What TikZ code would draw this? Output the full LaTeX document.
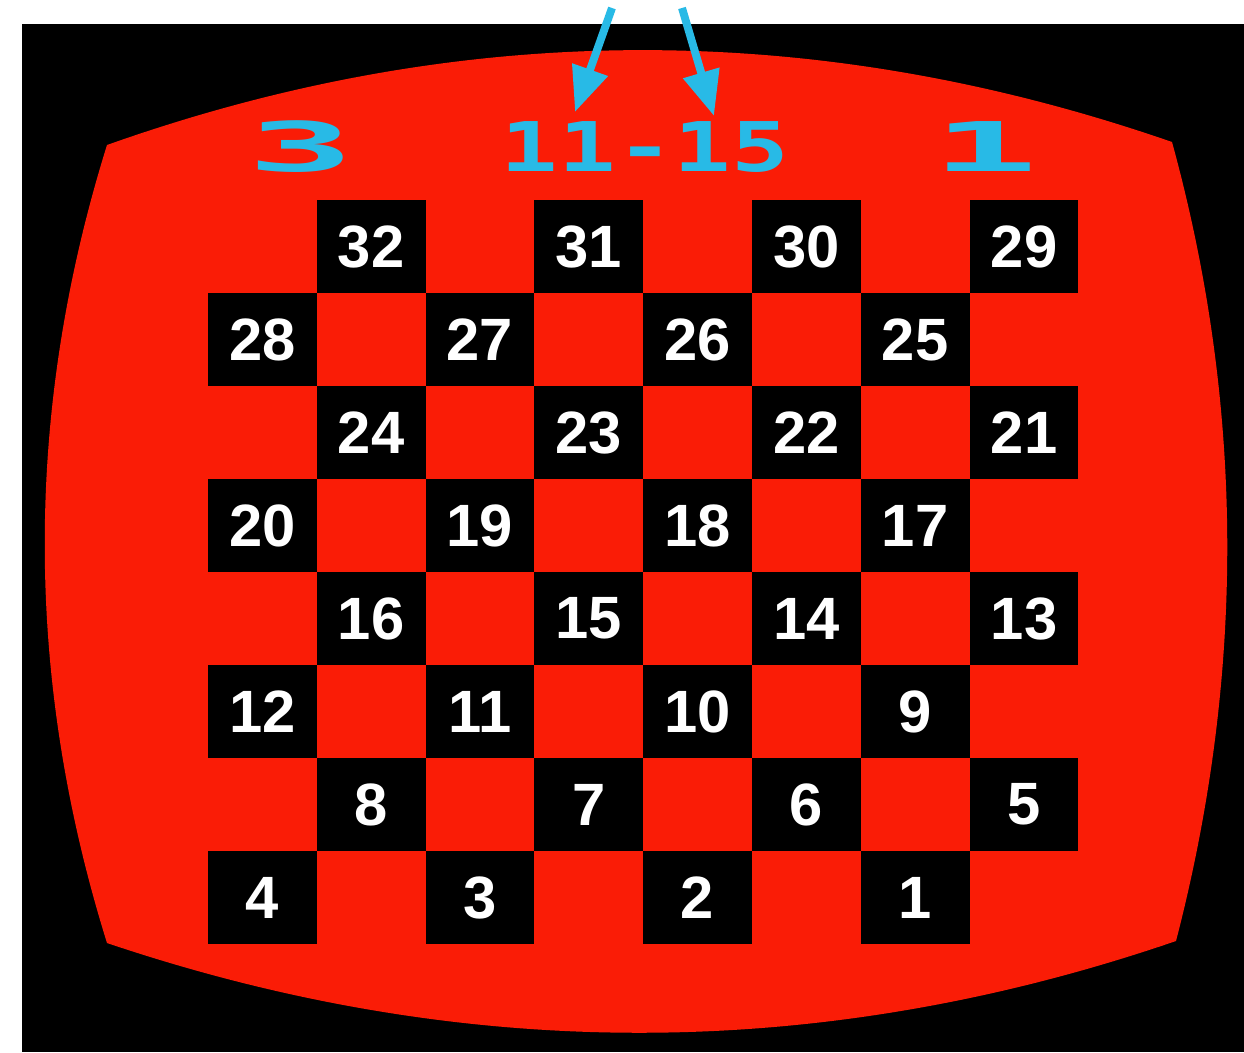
\documentclass[tikz,border=0pt]{standalone}
\usepackage{fontspec}
\usepackage{tikz}
\usetikzlibrary{arrows.meta}
\newfontfamily\boardfont{Liberation Sans}
\newfontfamily\movefont{DejaVu Sans Mono}[FakeStretch=1.4]
\newfontfamily\widefont{DejaVu Sans Mono}[FakeStretch=2.6]
\definecolor{screenred}{RGB}{250,28,6}
\definecolor{scorecyan}{RGB}{40,186,230}

\begin{document}
\begin{tikzpicture}[
    x=0.02cm, y=-0.02cm,
    cell/.style={fill=black, minimum width=2.176cm, minimum height=1.86cm, inner sep=0pt,
        text=white, font=\boardfont\bfseries\fontsize{34}{34}\selectfont},
    score/.style={text=scorecyan, inner sep=0pt, font=\widefont\bfseries\fontsize{39}{39}\selectfont},
    move/.style={score, font=\movefont\bfseries\fontsize{39}{39}\selectfont},
    pointer/.style={draw=scorecyan, line width=4.5pt, -{Triangle[length=0.9cm, width=0.72cm]}} % Pfeile auf den Zug
]
\useasboundingbox (0,0) rectangle (1244,1052);
\fill[white] (0,0) rectangle (1244,1052);
\fill[black] (22,24) rectangle (1244,1052);

% Bildschirm
\fill[screenred] (107,145) .. controls (462,19) and (817,19) .. (1172,142)
    .. controls (1245,408) and (1245,675) .. (1176,941)
    .. controls (820,1063) and (463,1063) .. (107,943)
    .. controls (24,677) and (24,411) .. cycle;

\foreach \r in {0,...,7}
    \foreach \k in {0,...,3}{
        \pgfmathtruncatemacro\col{2*\k+1-mod(\r,2)}
        \pgfmathtruncatemacro\num{4*(8-\r)-\k}
        \node[cell] (sq\num) at ({208+108.8*(\col+0.5)}, {200+93*(\r+0.5)}) {\num};
    }

\node[score] (scoreL) at (301,147) {3};
\node[move] (lastmove) at (645,147) {11-15};
\node[score] (scoreR) at (985,147) {1};

\coordinate (fromA) at (612,8);
\coordinate (toA) at (575,112);
\coordinate (fromB) at (682,8);
\coordinate (toB) at (714,116);
\draw[pointer] (fromA) -- (toA);
\draw[pointer] (fromB) -- (toB);

\end{tikzpicture}
\end{document}
